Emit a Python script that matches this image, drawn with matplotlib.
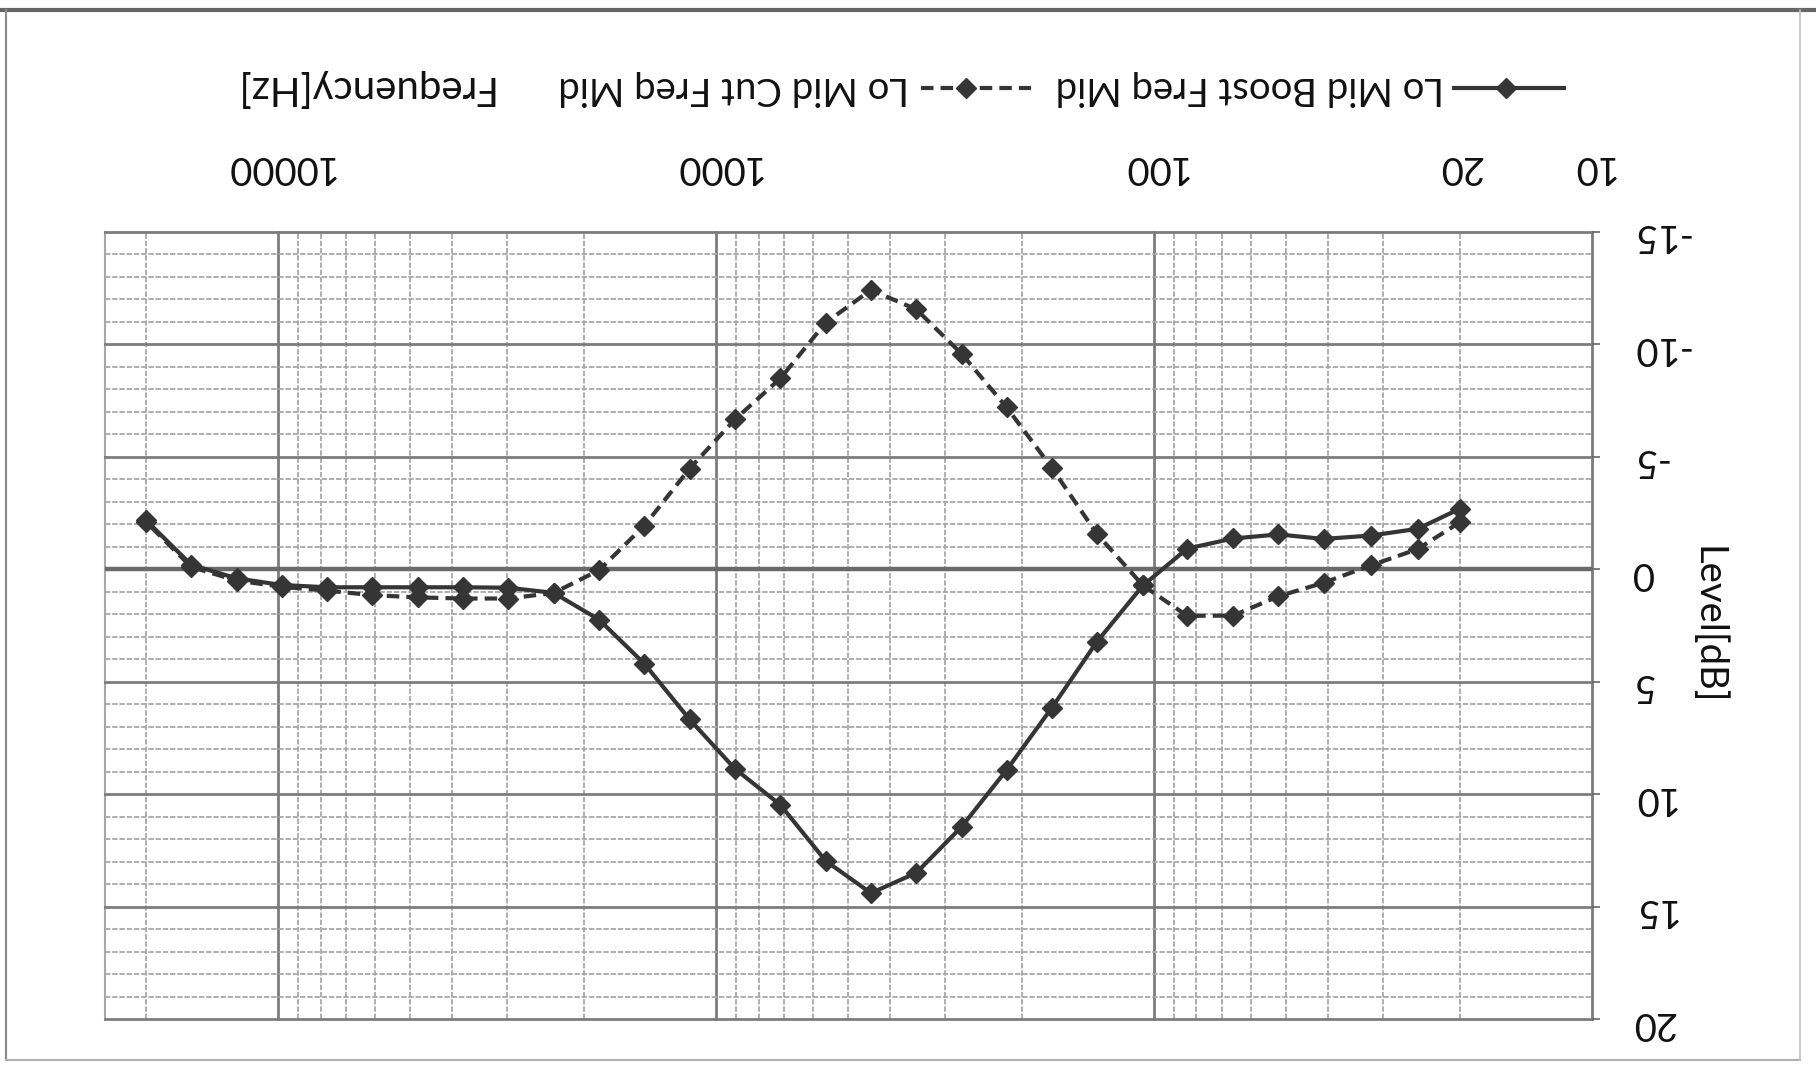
import matplotlib.pyplot as plt
from matplotlib.lines import Line2D

plt.rcParams['font.family'] = ['Lato', 'DejaVu Sans']
plt.rcParams['axes.unicode_minus'] = False

W, H = 1816, 1065

# 30 measurement points, 20 Hz .. 20 kHz
freq_hz = [20, 25, 32, 41, 52, 66, 84, 106, 135, 171, 217, 275, 349, 443, 562,
           713, 905, 1149, 1458, 1850, 2348, 2980, 3782, 4799, 6090, 7729,
           9808, 12447, 15795, 20000]
boost_db = [-2.7, -1.8, -1.5, -1.35, -1.55, -1.37, -0.92, 0.72, 3.22, 6.15,
            8.92, 11.45, 13.5, 14.4, 12.97, 10.48, 8.88, 6.68, 4.2, 2.24,
            1.05, 0.82, 0.8, 0.8, 0.8, 0.8, 0.7, 0.4, -0.2, -2.17]
cut_db = [-2.1, -0.9, -0.17, 0.6, 1.2, 2.06, 2.07, 0.72, -1.57, -4.5,
          -7.2, -9.58, -11.56, -12.42, -10.97, -8.49, -6.67, -4.48, -1.94, 0.04,
          1.05, 1.3, 1.3, 1.25, 1.15, 0.95, 0.78, 0.5, -0.1, -2.1]

x_ticks = [10, 20, 100, 1000, 10000]
x_tick_labels = ['10', '20', '100', '1000', '10000']
y_ticks = [-15, -10, -5, 0, 5, 10, 15, 20]

line_c = '#353535'
major_c = '#7c7c7c'
minor_c = '#a8a8a8'
text_c = '#111111'
fs = 27.5
lw = 3.0
ms = 10
dash = (0, (3, 1.7))
x_max = 24850


def fx(x):
    return x / W


def fy(y):
    return 1 - y / H


fig = plt.figure(figsize=(W / 100, H / 100), dpi=100)
fig.patch.set_facecolor('white')

# page is turned upside down: frequency runs right-to-left, level top-to-bottom
ax = fig.add_axes([fx(105), fy(1019), (1592 - 105) / W, (1019 - 232) / H])
ax.set_xscale('log')
ax.set_xlim(x_max, 10)
ax.set_ylim(20, -15)
for s in ax.spines.values():
    s.set_visible(False)

# log grid
for dec in [10, 100, 1000, 10000]:
    for k in range(1, 10):
        f = dec * k
        if f > x_max:
            break
        if k == 1:
            ax.axvline(f, color=major_c, lw=2, zorder=1, clip_on=False)
        else:
            ax.axvline(f, color=minor_c, lw=1.3, ls=(0, (3, 1)), zorder=1)
ax.axvline(x_max, color=minor_c, lw=1.5, zorder=1, clip_on=False)

for v in range(-15, 21):
    if v == 0:
        ax.axhline(0, color='#6a6a6a', lw=3.2, zorder=1.5)
    elif v % 5 == 0:
        ax.axhline(v, color=major_c, lw=2, zorder=1, clip_on=False)
    else:
        ax.axhline(v, color=minor_c, lw=1.3, ls=(0, (3, 1)), zorder=1)

ax.plot(freq_hz, boost_db, color=line_c, lw=lw, marker='D', ms=ms, zorder=3)
ax.plot(freq_hz, cut_db, color=line_c, lw=lw, ls=dash,
        marker='D', ms=ms, zorder=3)

ax.xaxis.tick_top()
ax.set_xticks(x_ticks)
ax.set_xticklabels(x_tick_labels)
ax.xaxis.set_minor_locator(plt.NullLocator())
ax.tick_params(axis='x', which='both', length=0, pad=34, labelsize=fs,
               labelrotation=180, labelcolor=text_c)

ax.yaxis.tick_right()
ax.set_yticks(y_ticks)
ax.tick_params(axis='y', length=6, width=1.2, color='#666666', direction='out',
               pad=22, labelsize=fs, labelrotation=180, labelcolor=text_c)

# legend row
ly = fy(88)
fig.add_artist(Line2D([fx(1454), fx(1564)], [ly, ly], color=line_c, lw=lw,
                      transform=fig.transFigure))
fig.add_artist(Line2D([fx(1506)], [ly], color=line_c, marker='D', ms=ms,
                      transform=fig.transFigure))
fig.add_artist(Line2D([fx(921), fx(1031)], [ly, ly], color=line_c, lw=lw,
                      ls=dash, transform=fig.transFigure))
fig.add_artist(Line2D([fx(966)], [ly], color=line_c, marker='D', ms=ms,
                      transform=fig.transFigure))
fig.text(fx(1444), ly, 'Lo Mid Boost Freq Mid', rotation=180, ha='right',
         va='center', fontsize=fs, color=text_c)
fig.text(fx(909), ly, 'Lo Mid Cut Freq Mid', rotation=180, ha='right',
         va='center', fontsize=fs, color=text_c)
fig.text(fx(492), ly, 'Frequency[Hz]', rotation=180, ha='right',
         va='center', fontsize=29, color=text_c)
fig.text(fx(1708), fy(625), 'Level[dB]', rotation=270, ha='center',
         va='center', fontsize=fs, color=text_c)

# chart border
fig.add_artist(Line2D([0, 1], [fy(10), fy(10)], color='#666666', lw=3,
                      transform=fig.transFigure))
fig.add_artist(Line2D([fx(6), fx(6)], [fy(10), fy(1060)], color='#8a8a8a',
                      lw=1.5, transform=fig.transFigure))
fig.add_artist(Line2D([fx(6), fx(1800)], [fy(1060), fy(1060)], color='#b0b0b0',
                      lw=1.5, transform=fig.transFigure))
fig.add_artist(Line2D([fx(1800), fx(1800)], [fy(10), fy(1060)], color='#c0c0c0',
                      lw=1.2, transform=fig.transFigure))

fig.savefig('out.png', dpi=100)
